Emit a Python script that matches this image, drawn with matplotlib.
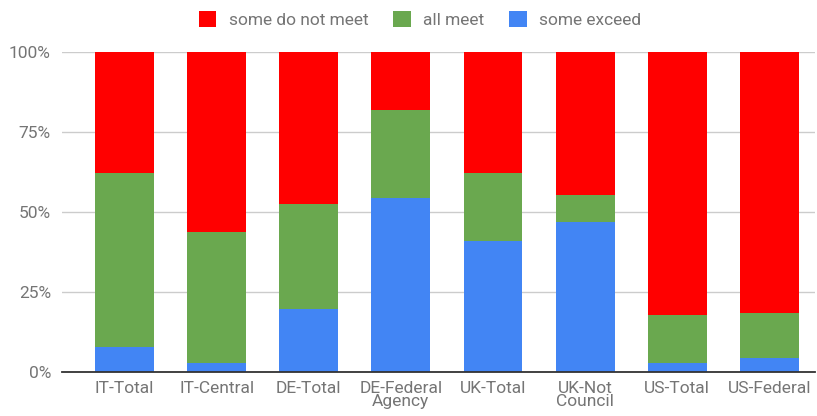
import matplotlib.pyplot as plt
import numpy as np

plt.rcParams['font.family'] = ['Roboto', 'DejaVu Sans']

categories = ['IT-Total', 'IT-Central', 'DE-Total', 'DE-Federal\nAgency',
              'UK-Total', 'UK-Not\nCouncil', 'US-Total', 'US-Federal']
some_exceed = [7.8, 2.8, 19.7, 54.3, 41.0, 47.0, 2.8, 4.6]
all_meet = [54.3, 41.1, 32.8, 27.4, 21.1, 8.2, 15.1, 13.8]
some_do_not_meet = [100 - a - b for a, b in zip(some_exceed, all_meet)]

c_red = '#ff0000'
c_green = '#6aa84f'
c_blue = '#4285f4'
txt = '#757575'

fig = plt.figure(figsize=(8.17, 4.16), dpi=100)
ax = fig.add_axes([0.0759, 0.105, 0.922, 0.771])

x = np.arange(len(categories))
w = 0.64
b1 = ax.bar(x, some_exceed, w, color=c_blue, label='some exceed', zorder=3)
b2 = ax.bar(x, all_meet, w, bottom=some_exceed, color=c_green, label='all meet', zorder=3)
bottom2 = [a + b for a, b in zip(some_exceed, all_meet)]
b3 = ax.bar(x, some_do_not_meet, w, bottom=bottom2, color=c_red, label='some do not meet', zorder=3)

ax.set_xlim(-0.68, 7.5)
ax.set_ylim(0, 100)
ax.set_yticks([0, 25, 50, 75, 100])
ax.set_yticklabels(['0%', '25%', '50%', '75%', '100%'])
ax.set_xticks(x)
ax.set_xticklabels(categories, linespacing=0.9)
ax.tick_params(axis='both', length=0, labelsize=12.5, labelcolor=txt)
ax.tick_params(axis='y', pad=8)
ax.tick_params(axis='x', pad=6)
ax.grid(axis='y', color='#cccccc', linewidth=1, zorder=0)
for s in ['top', 'right', 'left']:
    ax.spines[s].set_visible(False)
ax.spines['bottom'].set_color('#333333')
ax.spines['bottom'].set_linewidth(1.3)
ax.spines['bottom'].set_zorder(4)

fig.legend(handles=[b3, b2, b1], labels=['some do not meet', 'all meet', 'some exceed'],
           loc='upper center', bbox_to_anchor=(0.514, 1.01), ncol=3, frameon=False,
           fontsize=12.5, labelcolor=txt, handlelength=1.0, handleheight=1.0,
           handletextpad=0.7, columnspacing=1.45)

fig.savefig('out.png', dpi=100)
